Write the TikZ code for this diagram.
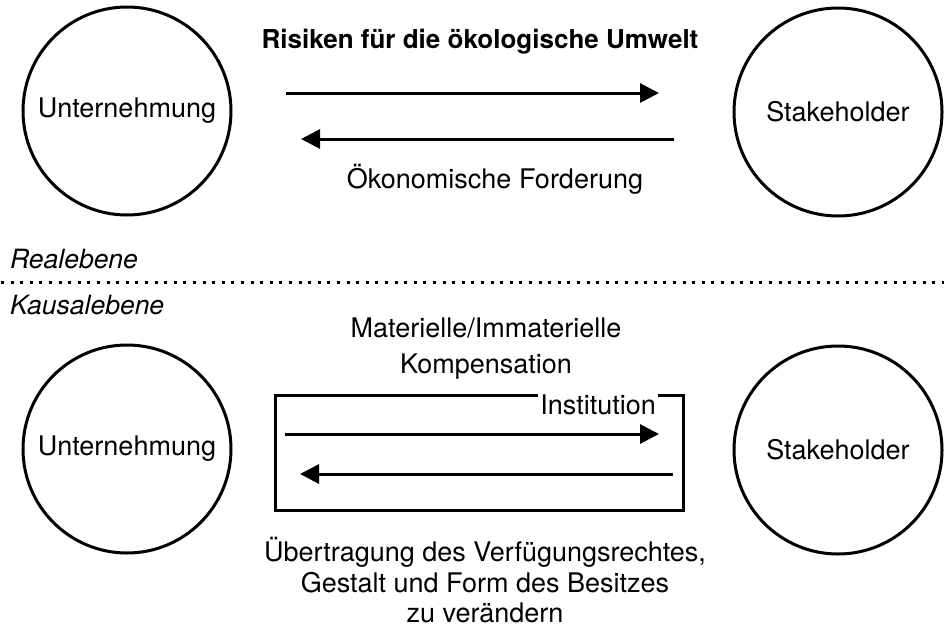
\documentclass[tikz,border=0pt]{standalone}
\usepackage{fontspec}
\setmainfont{TeX Gyre Heros}
\usetikzlibrary{arrows.meta}
\begin{document}
\begin{tikzpicture}[x=1pt,y=-1pt,
  actor/.style={draw,circle,line width=3pt,minimum size=208pt,inner sep=0pt,font=\fontsize{27}{31}\selectfont},
  lbl/.style={font=\fontsize{27}{31}\selectfont,inner sep=0pt,anchor=base},
  lvl/.style={font=\fontsize{26.5}{31}\selectfont\itshape,inner sep=0pt,anchor=base west},
  flow/.style={line width=3pt,-{Triangle[length=19pt,width=19pt]}},
  instbox/.style={draw,line width=3pt}]
\useasboundingbox (0,0) rectangle (944,632);

% top level (Realebene)
\node[actor] (u1) at (127,111) {Unternehmung};
\node[actor] (s1) at (838,112) {Stakeholder};
\node[lbl,font=\fontsize{26}{31}\selectfont\bfseries] (t1) at (480,48) {Risiken für die ökologische Umwelt};
\node[lbl] (t2) at (495,188) {Ökonomische Forderung};
\coordinate (a1s) at (286,93);
\coordinate (a1e) at (659,93);
\coordinate (a2s) at (674,139);
\coordinate (a2e) at (301,139);
\draw[flow] (a1s) -- (a1e);
\draw[flow] (a2s) -- (a2e);

% separator
\node[lvl] (re) at (10,268) {Realebene};
\coordinate (d1) at (1,282);
\coordinate (d2) at (944,282);
\draw[line width=3pt,dash pattern=on 3pt off 6.6pt] (d1) -- (d2);
\node[lvl] (ke) at (10,314) {Kausalebene};

% bottom level (Kausalebene)
\node[actor] (u2) at (127,449) {Unternehmung};
\node[actor] (s2) at (838,450) {Stakeholder};
\node[lbl] (m1) at (486,337) {Materielle/Immaterielle};
\node[lbl] (m2) at (486,373) {Kompensation};
\draw[instbox] (275,395) rectangle (683,510);
\node[lbl,anchor=base east,fill=white,inner xsep=2pt,inner ysep=3pt] (inst) at (658,414) {Institution};
\coordinate (b1s) at (285,434);
\coordinate (b1e) at (659,434);
\coordinate (b2s) at (673,474);
\coordinate (b2e) at (300,474);
\draw[flow] (b1s) -- (b1e);
\draw[flow] (b2s) -- (b2e);
\node[lbl] (l1) at (485,561) {Übertragung des Verfügungsrechtes,};
\node[lbl] (l2) at (485,592) {Gestalt und Form des Besitzes};
\node[lbl] (l3) at (485,622) {zu verändern};
\end{tikzpicture}
\end{document}
